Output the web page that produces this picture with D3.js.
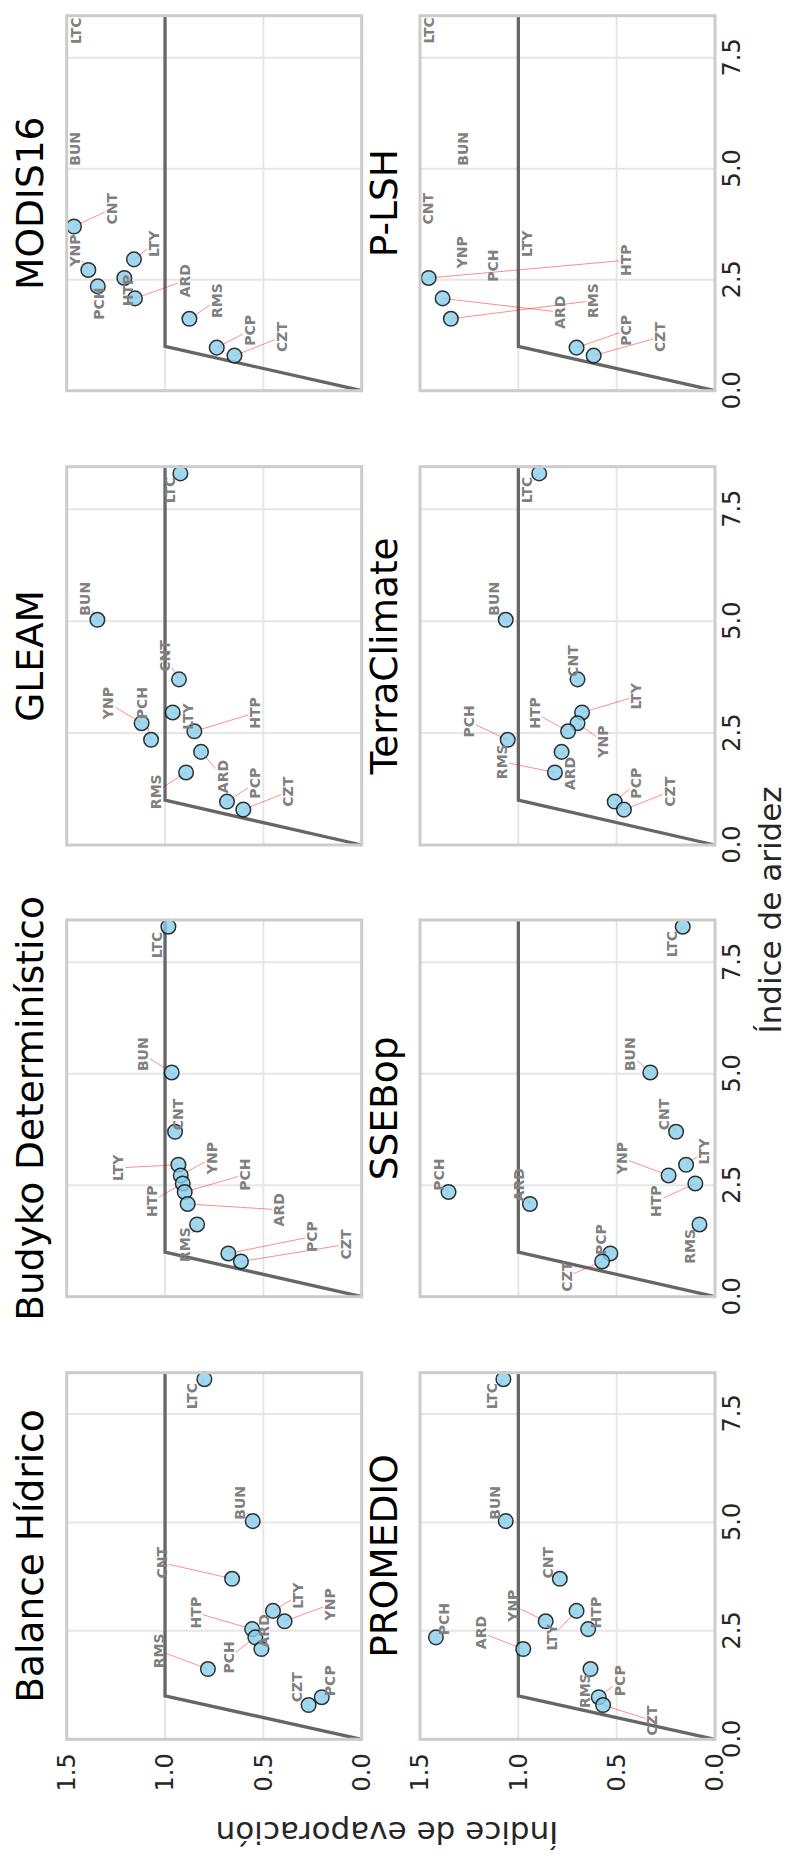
<!DOCTYPE html>
<html><head><meta charset="utf-8">
<script src="https://cdn.jsdelivr.net/npm/d3@7"></script>
<style>
html,body{margin:0;padding:0;background:#fff;}
svg{display:block;font-family:"DejaVu Sans",sans-serif;}
</style></head>
<body>
<script>
// ---------- DATA ----------
const sites = ["LTC","BUN","CNT","LTY","YNP","HTP","PCH","ARD","RMS","PCP","CZT"];
const aridity = [8.30,5.03,3.70,2.96,2.72,2.54,2.35,2.08,1.62,0.97,0.79];

const balanceHidrico = [0.800,0.554,0.659,0.451,0.392,0.557,0.541,0.510,0.782,0.203,0.270];
const budykoDet      = [0.983,0.966,0.949,0.932,0.920,0.910,0.900,0.885,0.837,0.678,0.614];
const gleam          = [0.922,1.344,0.929,0.961,1.119,0.851,1.071,0.817,0.893,0.685,0.602];
const modis16        = [null,null,1.463,1.158,1.390,1.207,1.342,1.153,0.876,0.737,0.647];
const promedio       = [1.076,1.064,0.789,0.704,0.861,0.645,1.419,0.975,0.633,0.591,0.569];
const ssebop         = [0.164,0.329,0.198,0.147,0.236,0.100,1.355,0.941,0.079,0.532,0.574];
const terraClimate   = [0.894,1.064,0.699,0.676,0.699,0.747,1.054,0.780,0.814,0.510,0.463];
const pLSH           = [null,null,null,null,null,1.456,null,1.385,1.343,0.704,0.617];

const panelTitles = ["Balance Hídrico","Budyko Determinístico","GLEAM","MODIS16",
                     "PROMEDIO","SSEBop","TerraClimate","P-LSH"];
const panelValues = [balanceHidrico,budykoDet,gleam,modis16,promedio,ssebop,terraClimate,pLSH];

const xTicks = [0,2.5,5,7.5];
const yTicks = [0,0.5,1,1.5];
const xLabel = "Índice de aridez";
const yLabel = "Índice de evaporación";

// label anchor (aridity, evaporation) placed by text repel, per panel, site order
const labelAnchors = [
 [[7.91,0.861],[5.45,0.617],[4.07,1.017],[3.31,0.324],[3.11,0.16],[2.92,0.845],[1.89,0.676],[2.5,0.498],[2.04,1.03],[1.35,0.16],[1.2,0.329]],
 [[7.89,1.042],[5.44,1.114],[4.09,0.936],[2.89,1.237],[3.11,0.763],[2.14,1.068],[2.74,0.593],[1.95,0.419],[1.17,0.898],[1.35,0.251],[1.17,0.081]],
 [[7.93,0.975],[5.50,1.407],[4.22,1.0],[2.87,0.881],[3.17,1.288],[2.95,0.542],[3.17,1.119],[1.53,0.707],[1.19,1.046],[1.38,0.542],[1.19,0.373]],
 [[8.11,1.453],[5.45,1.458],[4.10,1.271],[3.31,1.056],[3.16,1.458],[2.26,1.186],[1.96,1.336],[2.48,0.898],[2.03,0.737],[1.36,0.568],[1.21,0.407]],
 [[7.91,1.135],[5.45,1.118],[4.07,0.851],[2.35,0.831],[3.08,1.025],[2.92,0.603],[2.77,1.38],[2.46,1.191],[1.12,0.662],[1.35,0.485],[0.43,0.319]],
 [[7.91,0.218],[5.44,0.431],[4.09,0.257],[3.26,0.054],[3.11,0.473],[2.14,0.299],[2.74,1.405],[2.51,0.995],[1.13,0.127],[1.28,0.578],[0.45,0.755]],
 [[7.93,0.958],[5.50,1.123],[4.11,0.721],[3.32,0.40],[2.31,0.569],[2.95,0.916],[2.76,1.253],[1.60,0.738],[1.86,1.084],[1.38,0.40],[1.19,0.231]],
 [[8.12,1.456],[5.45,1.282],[4.10,1.461],[3.31,0.958],[3.12,1.287],[2.94,0.451],[2.82,1.127],[1.77,0.789],[2.03,0.62],[1.36,0.451],[1.21,0.279]]
];

// ---------- LAYOUT (landscape figure, rotated onto the portrait page) ----------
const FW = 1865, FH = 787;
const colX = [[125.7,492.3],[568.3,945],[1020,1398.3],[1474.3,1849.3]];
const rowY = [[66.7,361.7],[420,715]];
const xMax = 8.45, yMax = 1.5;

const svg = d3.select("body").append("svg").attr("width",787).attr("height",1865);
svg.append("rect").attr("width",787).attr("height",1865).attr("fill","#fff");
const fig = svg.append("g").attr("transform",`translate(0,${FW}) rotate(-90)`);

panelTitles.forEach((title,i)=>{
  const r = Math.floor(i/4), c = i%4;
  const [x0,x1] = colX[c], [y0,y1] = rowY[r];
  const x = d3.scaleLinear().domain([0,xMax]).range([x0,x1]);
  const y = d3.scaleLinear().domain([0,yMax]).range([y1,y0]);
  const g = fig.append("g");

  // grid
  g.selectAll(".gx").data(xTicks).join("line")
    .attr("x1",d=>x(d)).attr("x2",d=>x(d)).attr("y1",y0).attr("y2",y1)
    .attr("stroke","#e6e6e6").attr("stroke-width",2);
  g.selectAll(".gy").data(yTicks).join("line")
    .attr("y1",d=>y(d)).attr("y2",d=>y(d)).attr("x1",x0).attr("x2",x1)
    .attr("stroke","#e6e6e6").attr("stroke-width",2);

  // Budyko limits
  const lim = [[0,0],[1,1],[xMax,1]];
  g.append("path").attr("d",d3.line().x(d=>x(d[0])).y(d=>y(d[1]))(lim))
    .attr("fill","none").attr("stroke","#666").attr("stroke-width",3.3);

  const vals = panelValues[i];
  const anchors = labelAnchors[i];
  const fs = 14;

  const lg = g.append("g");
  const labels = sites.map((s,k)=>{
    const t = lg.append("text").attr("x",x(anchors[k][0])).attr("y",y(anchors[k][1]))
      .attr("text-anchor","middle").attr("dominant-baseline","central")
      .attr("font-size",fs).attr("font-weight","bold").attr("fill","#808080").text(s);
    return t;
  });

  const cg = g.insert("g", () => lg.node());
  sites.forEach((s,k)=>{
    const v = vals[k];
    if (v===null) return;
    const px = x(aridity[k]), py = y(v);
    const lx = x(anchors[k][0]), ly = y(anchors[k][1]);
    const w = labels[k].node().getComputedTextLength();
    const hw = w/2+1.5, hh = 7;
    const dx = px-lx, dy = py-ly;
    let t = Math.min(dx!==0?hw/Math.abs(dx):Infinity, dy!==0?hh/Math.abs(dy):Infinity);
    if (t>=1) t = 1;
    cg.append("line").attr("x1",lx+dx*t).attr("y1",ly+dy*t).attr("x2",px).attr("y2",py)
      .attr("stroke","red").attr("stroke-opacity",0.5).attr("stroke-width",0.9);
  });

  // points
  const pts = sites.map((s,k)=>({a:aridity[k],v:vals[k]})).filter(d=>d.v!==null);
  g.insert("g", () => lg.node()).selectAll("circle").data(pts).join("circle")
    .attr("cx",d=>x(d.a)).attr("cy",d=>y(d.v)).attr("r",7.3)
    .attr("fill","skyblue").attr("fill-opacity",0.8)
    .attr("stroke","#111").attr("stroke-opacity",0.85).attr("stroke-width",1.5);

  // frame
  g.append("rect").attr("x",x0).attr("y",y0).attr("width",x1-x0).attr("height",y1-y0)
    .attr("fill","none").attr("stroke","#cccccc").attr("stroke-width",3);

  // title
  g.append("text").attr("x",(x0+x1)/2).attr("y",y0-23.4).attr("text-anchor","middle")
    .attr("font-size",37.5).attr("fill","#000").text(title);

  // axes
  if (c===0){
    const ax = g.append("g").attr("transform",`translate(${x0},0)`)
      .call(d3.axisLeft(y).tickValues(yTicks).tickFormat(d3.format(".1f")).tickSize(0).tickPadding(14));
    ax.select(".domain").remove();
    ax.selectAll("text").attr("font-size",24).attr("fill","#262626").attr("font-family","DejaVu Sans");
  }
  if (r===1){
    const ax = g.append("g").attr("transform",`translate(0,${y1})`)
      .call(d3.axisBottom(x).tickValues(xTicks).tickFormat(d3.format(".1f")).tickSize(0).tickPadding(8));
    ax.select(".domain").remove();
    ax.selectAll("text").attr("font-size",24).attr("fill","#262626").attr("font-family","DejaVu Sans");
  }
});

// axis titles
fig.append("text").attr("x",955).attr("y",781).attr("text-anchor","middle")
  .attr("font-size",31).attr("fill","#262626").text(xLabel);
fig.append("text").attr("transform",`translate(43.3,387) rotate(-90)`).attr("text-anchor","middle")
  .attr("font-size",31).attr("fill","#262626").text(yLabel);
</script>
</body></html>
